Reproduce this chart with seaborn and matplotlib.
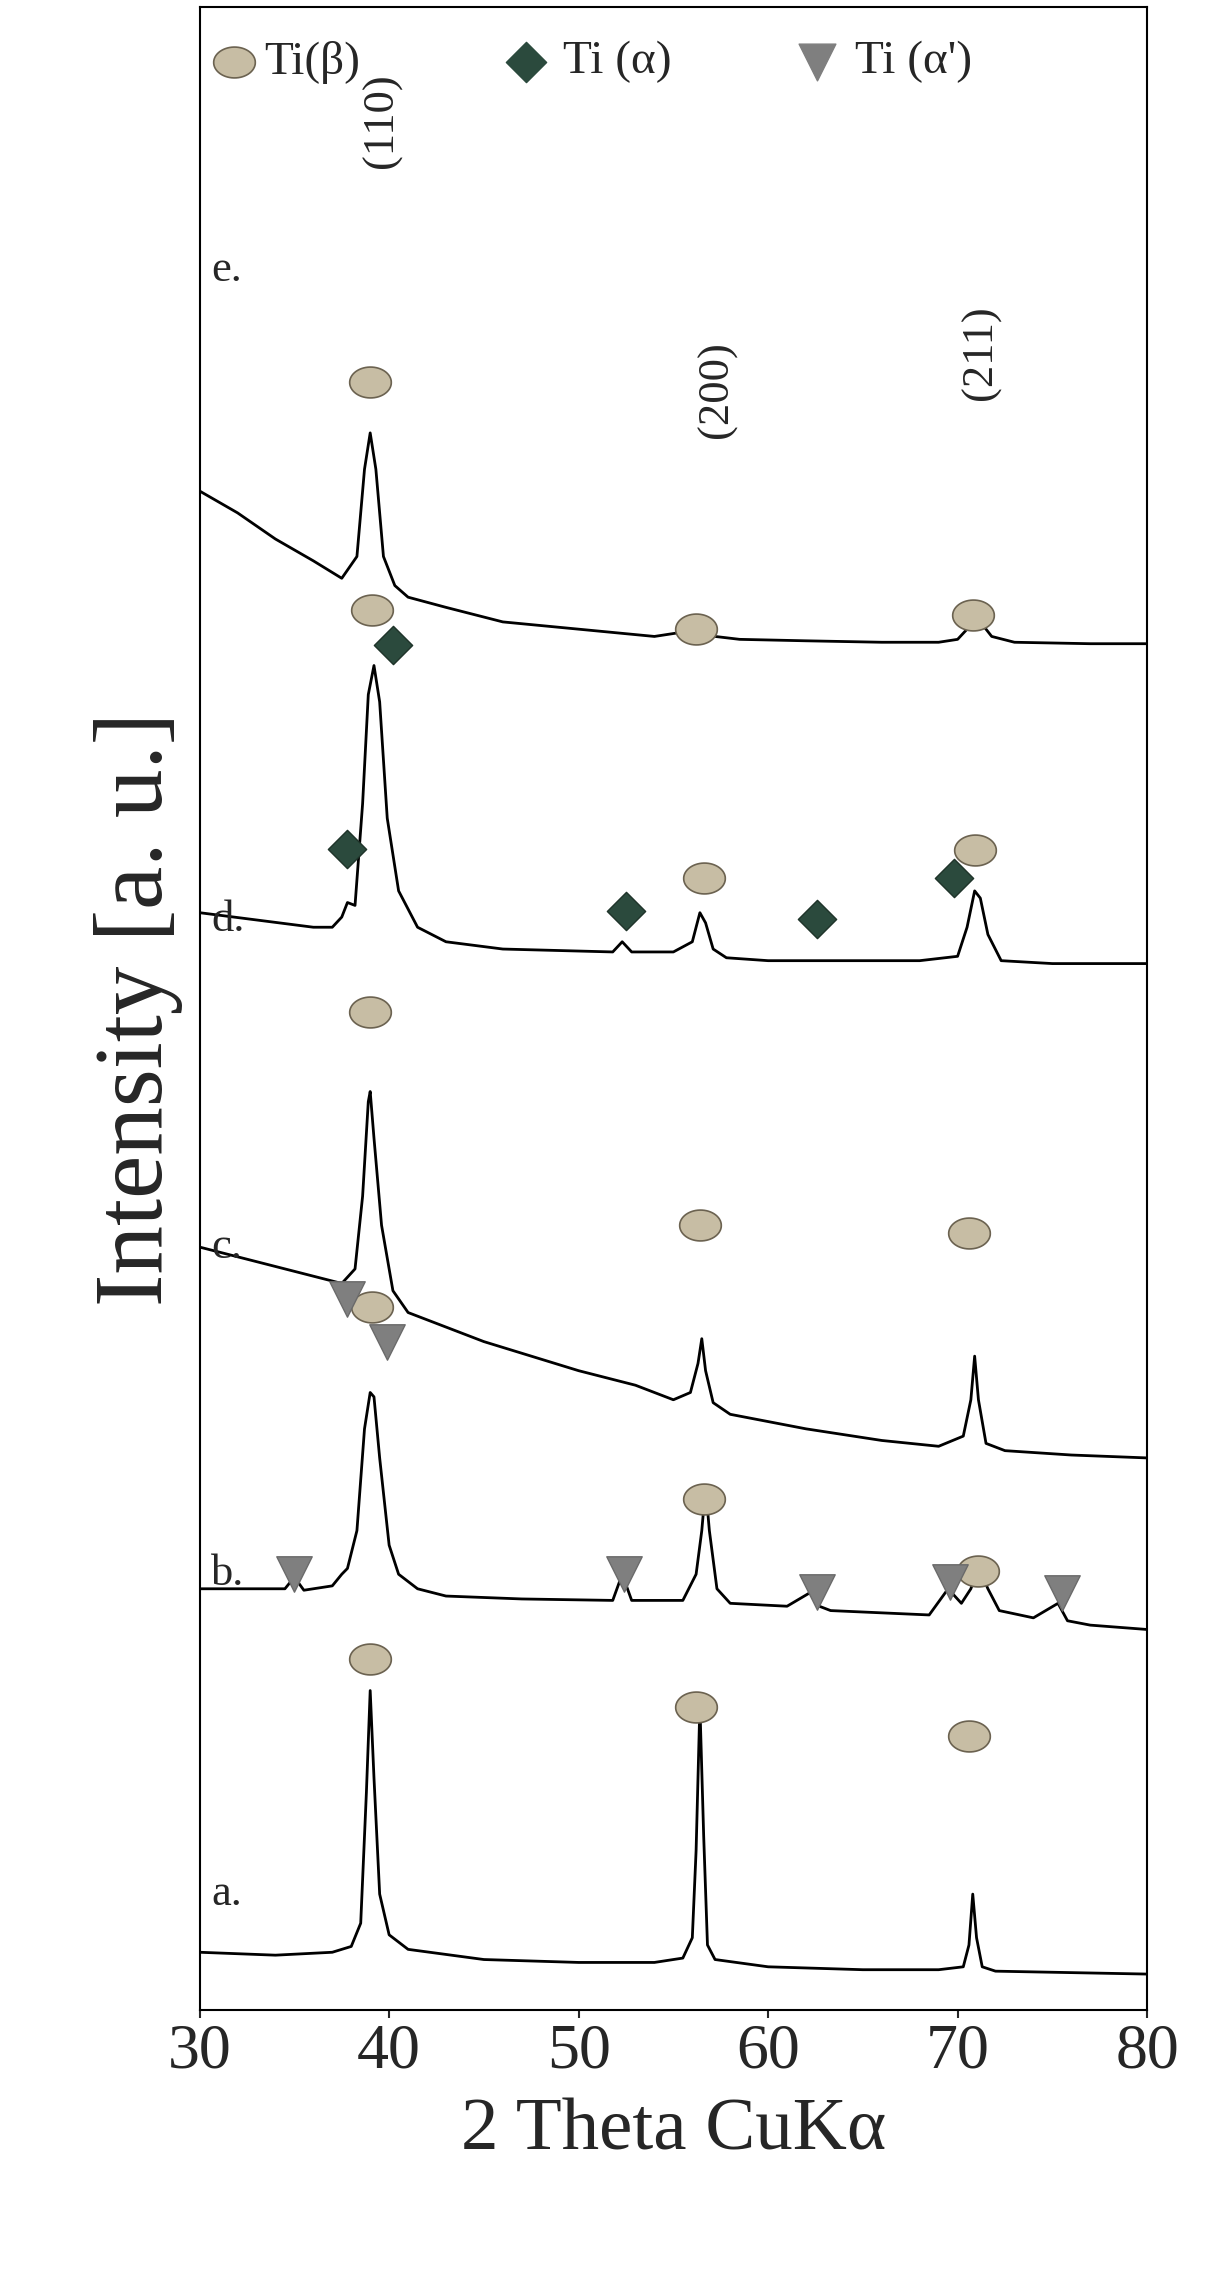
import numpy as np
import matplotlib
matplotlib.use("Agg")
import matplotlib.pyplot as plt
import seaborn as sns
from matplotlib.path import Path

sns.set_style("white")
plt.rcParams['font.family'] = ['Liberation Serif', 'DejaVu Serif']

# traces (x in 2theta, y in intensity a.u., offsets included)
x_a = [30,34,37,38,38.5,38.8,39.0,39.2,39.5,40,41,45,50,54,55.5,56.0,56.2,56.4,56.6,56.8,57.2,60,65,69,70.3,70.6,70.8,71.0,71.3,72,76,80]
y_a = [40,38,40,44,60,150,220,160,80,52,42,35,33,33,36,50,110,210,120,45,35,30,28,28,30,45,80,50,30,27,26,25]
x_b = [30,33,34.5,35,35.5,37,37.5,37.8,38.3,38.7,39.0,39.2,39.5,40,40.5,41.5,43,47,51.8,52.3,52.8,55.5,56.2,56.5,56.7,56.9,57.3,58,61,62.3,62.7,63.3,68.5,69.5,70.2,70.7,71.1,71.6,72.2,74,75.3,75.8,77,80]
y_b = [290,290,290,298,289,292,300,304,330,400,425,422,380,320,300,290,285,283,282,300,282,282,300,330,360,330,290,280,278,288,278,275,272,290,280,290,305,290,275,270,280,268,265,262]
x_c = [30,33,36,37.5,38.2,38.6,38.9,39.0,39.2,39.6,40.2,41,45,50,53,55,55.9,56.3,56.5,56.7,57.1,58,62,66,69,70.3,70.7,70.9,71.1,71.5,72.5,76,80]
y_c = [525,515,505,500,510,560,625,632,600,540,495,480,460,440,430,420,425,445,462,440,418,410,400,392,388,395,420,450,420,390,385,382,380]
x_d = [30,33,36,37,37.5,37.8,38.2,38.6,38.9,39.2,39.5,39.9,40.5,41.5,43,46,51.8,52.3,52.8,55,56,56.4,56.7,57.1,57.8,60,62,65,68,70,70.5,70.9,71.2,71.6,72.3,75,80]
y_d = [755,750,745,745,752,762,760,830,905,925,900,820,770,745,735,730,728,735,728,728,735,755,748,730,724,722,722,722,722,725,745,770,765,740,722,720,720]
x_e = [30,32,34,36,37.5,38.3,38.7,39.0,39.3,39.7,40.3,41,43,46,50,54,55.5,56,56.5,57.2,58.5,62,66,69,70,70.5,70.8,71.2,71.8,73,77,80]
y_e = [1045,1030,1012,997,985,1000,1060,1085,1060,1000,980,972,965,955,950,945,948,954,952,945,943,942,941,941,943,950,958,955,945,941,940,940]

beta_x = [39.0,56.2,70.8,39.1,56.6,70.9,39.0,56.4,70.6,39.1,56.6,71.1,39.0,56.2,70.6]
beta_y = [1120,950,960,963,779,798,687,540,535,484,352,302,242,209,189]
alpha_x = [40.2,37.8,52.5,62.6,69.8]
alpha_y = [939,799,756,751,779]
alphap_x = [39.9,37.8,35.0,52.4,62.6,69.6,75.5]
alphap_y = [460,489,300,300,288,295,287]

trace_labels = ["a.", "b.", "c.", "d.", "e."]
trace_label_y = [80, 300, 525, 750, 1197]
hkl_labels = ["(110)", "(200)", "(211)"]
hkl_x = [39.6, 57.3, 71.2]
hkl_y = [1300, 1115, 1140]

t = np.linspace(0, 2*np.pi, 60)
ell = Path(np.column_stack([1.35*np.cos(t), np.sin(t)]))

fig = plt.figure(figsize=(12.1, 22.95), dpi=100)
ax = fig.add_axes([0.165, 0.124, 0.783, 0.873])
for xs, ys in [(x_a,y_a),(x_b,y_b),(x_c,y_c),(x_d,y_d),(x_e,y_e)]:
    sns.lineplot(x=xs, y=ys, ax=ax, color='black', lw=2, sort=False, estimator=None)

ax.scatter(beta_x, beta_y, marker=ell, s=900, color='#c7bda4', edgecolor='#6b6250', lw=1.2, zorder=5)
ax.scatter(alpha_x, alpha_y, marker='D', s=380, color='#2b4a3d', edgecolor='#1e3329', zorder=5)
ax.scatter(alphap_x, alphap_y, marker='v', s=650, color='#7f7f7f', edgecolor='#6a6a6a', zorder=5)

for lab, yy in zip(trace_labels, trace_label_y):
    ax.text(30.6, yy, lab, fontsize=32, va='center', ha='left')
for lab, xx, yy in zip(hkl_labels, hkl_x, hkl_y):
    ax.text(xx, yy, lab, fontsize=32, rotation=90, va='center', ha='center')

# legend
ax.scatter([31.8], [1340], marker=ell, s=900, color='#c7bda4', edgecolor='#6b6250', lw=1.2)
ax.text(33.4, 1340, "Ti(β)", fontsize=34, va='center')
ax.scatter([47.2], [1340], marker='D', s=420, color='#2b4a3d')
ax.text(49.2, 1340, "Ti (α)", fontsize=34, va='center')
ax.scatter([62.6], [1340], marker='v', s=700, color='#7f7f7f')
ax.text(64.6, 1340, "Ti (α')", fontsize=34, va='center')

ax.set_xlim(30, 80)
ax.set_ylim(0, 1378)
ax.set_yticks([])
ax.set_xticks([30, 40, 50, 60, 70, 80])
ax.tick_params(axis='x', labelsize=46, direction='out', length=6, width=1.5, bottom=True)
ax.set_xlabel("2 Theta CuKα", fontsize=54, labelpad=12)
ax.set_ylabel("Intensity [a. u.]", fontsize=70, labelpad=12)
for s in ax.spines.values():
    s.set_color('black'); s.set_linewidth(1.5)
fig.savefig("out.png", dpi=100)
